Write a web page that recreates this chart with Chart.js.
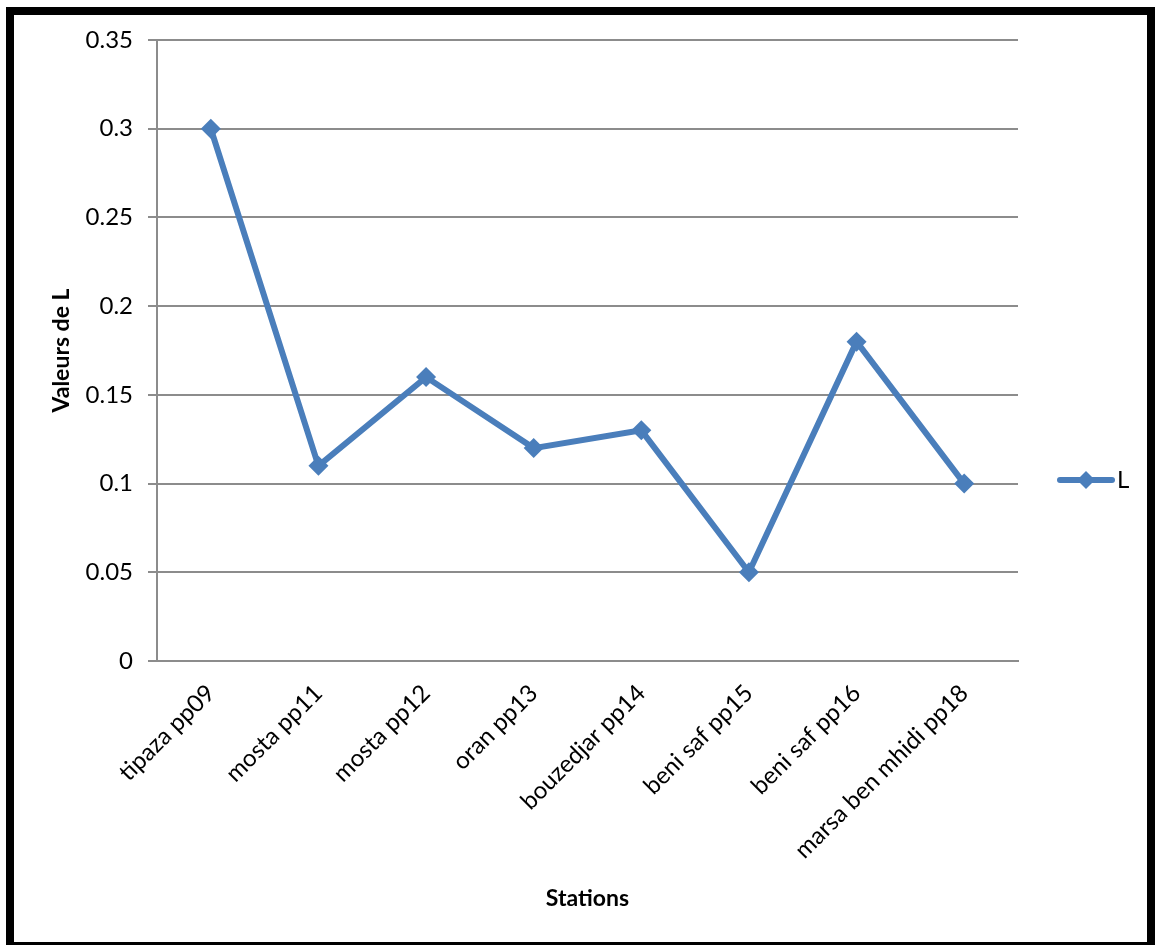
<!DOCTYPE html>
<html>
<head>
<meta charset="utf-8">
<script src="https://cdn.jsdelivr.net/npm/chart.js@4/dist/chart.umd.min.js"></script>
<style>
  html, body { margin: 0; padding: 0; background: #fff; overflow: hidden; }
  #frame {
    position: absolute; left: 6px; top: 7px;
    width: 1133px; height: 927px;
    border: 8px solid #000;
    box-sizing: content-box;
  }
  #wrap { position: absolute; left: 0; top: 0; width: 1155px; height: 945px; }
</style>
</head>
<body>
<div id="frame"></div>
<div id="wrap"><canvas id="myChart" width="1155" height="945"></canvas></div>
<script>
const stations = ["tipaza pp09", "mosta pp11", "mosta pp12", "oran pp13",
                  "bouzedjar pp14", "beni saf pp15", "beni saf pp16", "marsa ben mhidi pp18"];
const valeursL = [0.30, 0.11, 0.16, 0.12, 0.13, 0.05, 0.18, 0.10];
const seriesName = "L";

const blue = "#4A7EBB";
const grey = "#8C8C8C";
const font = "Lato, 'Open Sans', sans-serif";

// legend drawn by hand: line with a diamond, then the series name
const sideLegend = {
    id: "sideLegend",
    afterDraw(chart) {
        const ctx = chart.ctx;
        const y = 480;
        ctx.save();
        ctx.strokeStyle = blue;
        ctx.lineWidth = 6;
        ctx.lineCap = "round";
        ctx.beginPath();
        ctx.moveTo(1060, y);
        ctx.lineTo(1112, y);
        ctx.stroke();
        ctx.fillStyle = blue;
        ctx.beginPath();
        ctx.moveTo(1086, y - 9);
        ctx.lineTo(1095, y);
        ctx.lineTo(1086, y + 9);
        ctx.lineTo(1077, y);
        ctx.closePath();
        ctx.fill();
        ctx.fillStyle = "#000";
        ctx.font = "24px " + font;
        ctx.textBaseline = "middle";
        ctx.fillText(seriesName, 1117, y);
        ctx.restore();
    }
};

new Chart(document.getElementById("myChart"), {
    type: "line",
    data: {
        labels: stations,
        datasets: [{
            label: seriesName,
            data: valeursL,
            borderColor: blue,
            backgroundColor: blue,
            borderWidth: 6,
            pointStyle: "rectRot",
            pointRadius: 10,
            pointBorderWidth: 0,
            tension: 0
        }]
    },
    options: {
        responsive: false,
        animation: false,
        layout: { padding: { left: 0, top: 40, right: 137, bottom: 0 } },
        plugins: {
            legend: { display: false },
            tooltip: { enabled: false }
        },
        scales: {
            x: {
                offset: true,
                grid: { display: false, offset: true },
                border: { color: grey, width: 2 },
                ticks: {
                    color: "#000",
                    font: { family: font, size: 24 },
                    maxRotation: 45,
                    minRotation: 45,
                    padding: 10,
                    autoSkip: false
                },
                title: {
                    display: true,
                    text: "Stations",
                    color: "#000",
                    font: { family: font, size: 23, weight: "bold" },
                    padding: { top: 33, bottom: 33 }
                },
                afterFit(scale) { scale.height = 284; }
            },
            y: {
                min: 0,
                max: 0.35,
                ticks: {
                    stepSize: 0.05,
                    color: "#000",
                    font: { family: font, size: 24 },
                    padding: 15,
                    callback: v => String(Number(v.toFixed(2)))
                },
                grid: { color: grey, lineWidth: 2, tickLength: 9 },
                border: { color: grey, width: 2 },
                title: {
                    display: true,
                    text: "Valeurs de L",
                    color: "#000",
                    font: { family: font, size: 23, weight: "bold" },
                    padding: { top: 48, bottom: 0 }
                },
                afterFit(scale) { scale.width = 157; }
            }
        }
    },
    plugins: [sideLegend]
});
</script>
</body>
</html>
